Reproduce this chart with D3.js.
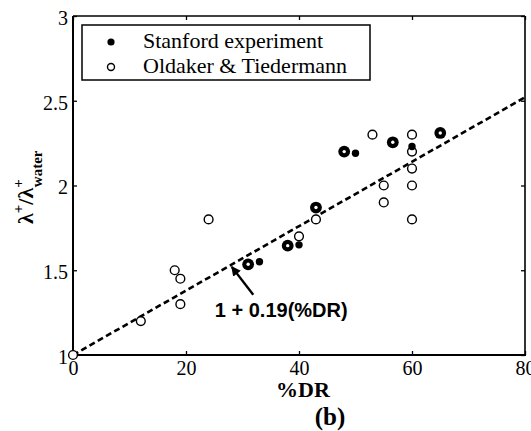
<!DOCTYPE html>
<html>
<head>
<meta charset="utf-8">
<script src="https://cdn.jsdelivr.net/npm/d3@7"></script>
<style>
  html, body { margin: 0; padding: 0; background: #fff; }
  svg { display: block; }
</style>
</head>
<body>
<script>
// Drag-reduction data: normalized slope ratio vs. %DR
const xTicks = [0, 20, 40, 60, 80];
const yTicks = [1, 1.5, 2, 2.5, 3];
const yTickLabels = ["1", "1.5", "2", "2.5", "3"];

// Stanford experiment: large ringed markers and small solid markers
const stanfordRingX = [31, 38, 43, 48, 56.6, 65];
const stanfordRingY = [1.535, 1.645, 1.87, 2.2, 2.255, 2.31];
const stanfordDotX = [33, 40, 50, 60];
const stanfordDotY = [1.55, 1.65, 2.19, 2.23];

// Oldaker & Tiedermann
const oldakerX = [0, 12, 18, 19, 19, 24, 40, 43, 53, 55, 55, 60, 60, 60, 60, 60];
const oldakerY = [1, 1.2, 1.5, 1.45, 1.3, 1.8, 1.7, 1.8, 2.3, 2.0, 1.9, 2.3, 2.2, 2.1, 2.0, 1.8];

// Fit line: 1 + 0.19 (%DR / 10)
const fitX = [0, 80];
const fitIntercept = 1;
const fitSlope = 0.019;

const legendLabels = ["Stanford experiment", "Oldaker & Tiedermann"];

const SERIF = "'Liberation Serif', 'Times New Roman', Times, serif";
const SANS = "'Liberation Sans', Arial, Helvetica, sans-serif";

const W = 531, H = 431;
const svg = d3.select("body").append("svg").attr("width", W).attr("height", H);

const x = d3.scaleLinear().domain([0, 80]).range([73, 525]);
const y = d3.scaleLinear().domain([1, 3]).range([355, 16]);

const [x0, x1] = x.range();
const [yb, yt] = y.range();

// Frame
const frame = svg.append("g").attr("stroke", "#000").attr("fill", "none");
frame.append("line").attr("x1", x0).attr("x2", x1).attr("y1", yt).attr("y2", yt).attr("stroke-width", 1.5);
frame.append("line").attr("x1", x1).attr("x2", x1).attr("y1", yt).attr("y2", yb).attr("stroke-width", 1.6);
frame.append("line").attr("x1", x0).attr("x2", x1 + 1).attr("y1", yb).attr("y2", yb).attr("stroke-width", 2);
frame.append("line").attr("x1", x0).attr("x2", x0).attr("y1", yt).attr("y2", yb + 1).attr("stroke-width", 2);

// Axes with inward ticks
const axB = svg.append("g").attr("transform", `translate(0,${yb})`)
  .call(d3.axisBottom(x).tickValues(xTicks).tickFormat(d3.format("d")).tickSizeInner(-4).tickSizeOuter(0).tickPadding(6));
const axT = svg.append("g").attr("transform", `translate(0,${yt})`)
  .call(d3.axisTop(x).tickValues(xTicks).tickFormat("").tickSizeInner(-4).tickSizeOuter(0));
const axL = svg.append("g").attr("transform", `translate(${x0},0)`)
  .call(d3.axisLeft(y).tickValues(yTicks).tickFormat((d, i) => yTickLabels[i]).tickSizeInner(-4).tickSizeOuter(0).tickPadding(5));
const axR = svg.append("g").attr("transform", `translate(${x1},0)`)
  .call(d3.axisRight(y).tickValues(yTicks).tickFormat("").tickSizeInner(-4).tickSizeOuter(0));

[axB, axT, axL, axR].forEach(a => {
  a.attr("font-family", SERIF).attr("font-size", 20);
  a.select(".domain").remove();
  a.selectAll(".tick line").attr("stroke", "#000").attr("stroke-width", 1.3);
  a.selectAll("text").attr("font-family", SERIF).attr("font-size", 20).attr("fill", "#000");
});
axL.selectAll("text").attr("dy", "0.42em");

// Fit line (dashed)
svg.append("line")
  .attr("x1", x(fitX[0])).attr("y1", y(fitIntercept + fitSlope * fitX[0]))
  .attr("x2", x(fitX[1])).attr("y2", y(fitIntercept + fitSlope * fitX[1]))
  .attr("stroke", "#000").attr("stroke-width", 2.6).attr("stroke-dasharray", "6,3.5");

// Oldaker & Tiedermann (open circles)
svg.append("g").selectAll("circle").data(d3.zip(oldakerX, oldakerY)).join("circle")
  .attr("cx", d => x(d[0])).attr("cy", d => y(d[1])).attr("r", 4.4)
  .attr("fill", "#fff").attr("stroke", "#000").attr("stroke-width", 1.4);

// Stanford ringed markers
const ring = svg.append("g").selectAll("g").data(d3.zip(stanfordRingX, stanfordRingY)).join("g");
ring.append("circle").attr("cx", d => x(d[0])).attr("cy", d => y(d[1])).attr("r", 5.9).attr("fill", "#000");
ring.append("circle").attr("cx", d => x(d[0])).attr("cy", d => y(d[1])).attr("r", 1.7).attr("fill", "#fff");

// Stanford solid markers
svg.append("g").selectAll("circle").data(d3.zip(stanfordDotX, stanfordDotY)).join("circle")
  .attr("cx", d => x(d[0])).attr("cy", d => y(d[1])).attr("r", 3.7).attr("fill", "#000");

// Annotation arrow and text
const defs = svg.append("defs");
defs.append("marker").attr("id", "head").attr("viewBox", "0 0 10 10")
  .attr("refX", 9).attr("refY", 5).attr("markerWidth", 4).attr("markerHeight", 4)
  .attr("markerUnits", "strokeWidth").attr("orient", "auto")
  .append("path").attr("d", "M0,0 L10,5 L0,10 Z").attr("fill", "#000");
svg.append("line")
  .attr("x1", x(31.9)).attr("y1", y(1.355))
  .attr("x2", x(28.1)).attr("y2", y(1.52))
  .attr("stroke", "#000").attr("stroke-width", 2.4).attr("marker-end", "url(#head)");
svg.append("text")
  .attr("x", x(25.1)).attr("y", y(1.225))
  .attr("font-family", SANS).attr("font-weight", "bold")
  .attr("font-size", 20).attr("fill", "#000")
  .text("1 + 0.19(%DR)");

// Legend
const lg = svg.append("g");
lg.append("rect").attr("x", 82).attr("y", 25).attr("width", 288).attr("height", 55)
  .attr("fill", "#fff").attr("stroke", "#000").attr("stroke-width", 1.5);
lg.append("circle").attr("cx", 111).attr("cy", 42).attr("r", 3.6).attr("fill", "#000");
lg.append("circle").attr("cx", 111).attr("cy", 67).attr("r", 3.5).attr("fill", "#fff")
  .attr("stroke", "#000").attr("stroke-width", 1.4);
lg.selectAll("text").data(legendLabels).join("text")
  .attr("x", 143).attr("y", (d, i) => 48 + i * 25)
  .attr("font-family", SERIF).attr("font-size", 22).attr("fill", "#000").text(d => d);

// X axis title and panel tag
svg.append("text").attr("x", (x0 + x1) / 2 + 4).attr("y", 397)
  .attr("font-family", SERIF).attr("text-anchor", "middle").attr("font-weight", "bold")
  .attr("font-size", 22).text("%DR");
svg.append("text").attr("x", 330).attr("y", 425)
  .attr("font-family", SERIF).attr("text-anchor", "middle").attr("font-weight", "bold")
  .attr("font-size", 25).text("(b)");

// Y axis title: λ+/λ+_water
const yl = svg.append("text")
  .attr("transform", "translate(33,224) rotate(-90)")
  .attr("font-family", SERIF).attr("font-weight", "bold").attr("font-size", 22).attr("fill", "#000");
yl.append("tspan").text("λ");
yl.append("tspan").attr("dy", -10).attr("font-size", 15).text("+");
yl.append("tspan").attr("dy", 10).text("/λ");
yl.append("tspan").attr("dy", -10).attr("font-size", 15).text("+");
yl.append("tspan").attr("dx", -8).attr("dy", 19).attr("font-size", 15).text("water");
</script>
</body>
</html>
